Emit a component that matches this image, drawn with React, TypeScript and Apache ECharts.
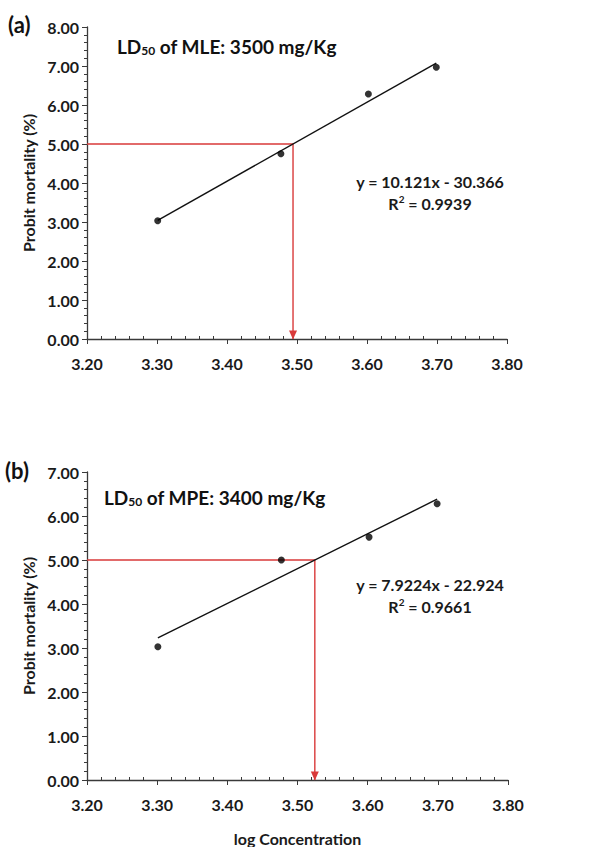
import React, { useEffect, useRef } from "react";
import * as echarts from "echarts";

const logConc = [3.301, 3.477, 3.602, 3.699];
const probitA = [3.03, 4.75, 6.28, 6.97];
const probitB = [3.03, 5.0, 5.52, 6.28];
const fitA = { slope: 10.121, intercept: -30.366, r2: "0.9939", eq: "y = 10.121x - 30.366" };
const fitB = { slope: 7.9224, intercept: -22.924, r2: "0.9661", eq: "y = 7.9224x - 22.924" };
const xTicks = { min: 3.2, max: 3.8, interval: 0.1 };
const yMaxA = 8;
const yMaxB = 7;
const titleA = ["LD", "50", " of MLE: 3500 mg/Kg"];
const titleB = ["LD", "50", " of MPE: 3400 mg/Kg"];

const FONT = "Lato";
const AXIS_COLOR = "#3a3a3a";
const RED = "#d93a3a";

export default function App() {
  const ref = useRef<HTMLDivElement>(null);
  useEffect(() => {
    document.body.style.margin = "0";
    const chart = echarts.init(ref.current!, undefined, { renderer: "svg" });

    const grids = [
      { left: 87, top: 27, width: 420, height: 312 },
      { left: 87, top: 472, width: 421, height: 311 },
    ];

    const xAxisBase = (gi: number, withName: boolean) => ({
      type: "value",
      gridIndex: gi,
      min: xTicks.min,
      max: xTicks.max,
      interval: xTicks.interval,
      splitLine: { show: false },
      axisLine: { show: true, lineStyle: { color: AXIS_COLOR, width: 1.3 } },
      axisTick: { show: true, length: 5, lineStyle: { color: AXIS_COLOR } },
      axisLabel: {
        margin: 16,
        fontFamily: FONT,
        fontWeight: "bold",
        fontSize: 16,
        color: "#1a1a1a",
        formatter: (v: number) => v.toFixed(2),
      },
      name: withName ? "log Concentration" : "",
      nameLocation: "middle",
      nameGap: 50,
      nameTextStyle: { fontFamily: FONT, fontWeight: "bold", fontSize: 16, color: "#1a1a1a" },
    });
    const xMinor = (gi: number) => ({
      type: "value",
      gridIndex: gi,
      min: xTicks.min,
      max: xTicks.max,
      interval: xTicks.interval,
      position: "bottom",
      splitLine: { show: false },
      axisLine: { show: false },
      axisTick: { show: false, inside: true },
      axisLabel: { show: false },
      minorTick: { show: true, splitNumber: 5, length: 3, lineStyle: { color: AXIS_COLOR } },
    });
    const yAxisBase = (gi: number, max: number) => ({
      type: "value",
      gridIndex: gi,
      min: 0,
      max,
      interval: 1,
      splitLine: { show: false },
      axisLine: { show: true, lineStyle: { color: AXIS_COLOR, width: 1.3 } },
      axisTick: { show: true, length: 5, lineStyle: { color: AXIS_COLOR } },
      minorTick: { show: true, splitNumber: 5, length: 3, lineStyle: { color: AXIS_COLOR } },
      axisLabel: {
        margin: 8,
        fontFamily: FONT,
        fontWeight: "bold",
        fontSize: 16,
        color: "#1a1a1a",
        formatter: (v: number) => v.toFixed(2),
      },
      name: "Probit mortality (%)",
      nameLocation: "middle",
      nameGap: 50,
      nameTextStyle: { fontFamily: FONT, fontWeight: "bold", fontSize: 16, color: "#1a1a1a" },
    });

    const buildSeries = (gi: number, ys: number[], fit: { slope: number; intercept: number }) => {
      const x0 = logConc[0];
      const x1 = logConc[logConc.length - 1];
      const ld = (5 - fit.intercept) / fit.slope;
      return [
        {
          type: "line",
          xAxisIndex: gi * 2,
          yAxisIndex: gi,
          data: [
            [x0, fit.slope * x0 + fit.intercept],
            [x1, fit.slope * x1 + fit.intercept],
          ],
          symbol: "none",
          lineStyle: { color: "#111", width: 1.4 },
          z: 3,
        },
        {
          type: "line",
          xAxisIndex: gi * 2,
          yAxisIndex: gi,
          data: [
            { value: [xTicks.min, 5], symbol: "none" },
            { value: [ld, 5], symbol: "none" },
            { value: [ld, 0], symbol: "triangle", symbolSize: [8, 9], symbolRotate: 180, symbolOffset: [0, -4] },
          ],
          symbol: "none",
          showSymbol: true,
          itemStyle: { color: RED },
          lineStyle: { color: RED, width: 1.4 },
          z: 2,
        },
        {
          type: "scatter",
          xAxisIndex: gi * 2,
          yAxisIndex: gi,
          data: logConc.map((x, i) => [x, ys[i]]),
          symbol: "circle",
          symbolSize: 7,
          itemStyle: { color: "#000" },
          z: 4,
        },
      ];
    };

    const richTitle = {
      a: { fontFamily: FONT, fontWeight: "bold", fontSize: 19, fill: "#111" },
      s: { fontFamily: FONT, fontWeight: "bold", fontSize: 12, fill: "#111", padding: [9, 0, 0, 0] },
    } as any;
    const richEq = {
      a: { fontFamily: FONT, fontWeight: "bold", fontSize: 16, fill: "#1a1a1a" },
      u: { fontFamily: FONT, fontWeight: "bold", fontSize: 10, fill: "#1a1a1a", padding: [0, 0, 8, 0] },
    } as any;

    const textEl = (x: number, y: number, text: string, rich: any, align = "left") => ({
      type: "text",
      x,
      y,
      style: { text, rich, align, verticalAlign: "middle" },
    });

    chart.setOption({
      animation: false,
      grid: grids,
      xAxis: [xAxisBase(0, false), xMinor(0), xAxisBase(1, true), xMinor(1)],
      yAxis: [yAxisBase(0, yMaxA), yAxisBase(1, yMaxB)],
      series: [...buildSeries(0, probitA, fitA), ...buildSeries(1, probitB, fitB)],
      graphic: [
        {
          type: "text",
          left: 8,
          top: 13,
          style: { text: "(a)", fontFamily: FONT, fontWeight: "bold", fontSize: 22, fill: "#111" },
        },
        {
          type: "text",
          left: 5,
          top: 459,
          style: { text: "(b)", fontFamily: FONT, fontWeight: "bold", fontSize: 22, fill: "#111" },
        },
        textEl(117, 46, `{a|${titleA[0]}}{s|${titleA[1]}}{a|${titleA[2]}}`, richTitle),
        textEl(104, 497, `{a|${titleB[0]}}{s|${titleB[1]}}{a|${titleB[2]}}`, richTitle),
        textEl(430, 181, `{a|${fitA.eq}}`, richEq, "center"),
        textEl(430, 203, `{a|R}{u|2}{a| = ${fitA.r2}}`, richEq, "center"),
        textEl(430, 584, `{a|${fitB.eq}}`, richEq, "center"),
        textEl(430, 606, `{a|R}{u|2}{a| = ${fitB.r2}}`, richEq, "center"),
      ],
    });
    return () => chart.dispose();
  }, []);
  return <div ref={ref} style={{ width: 591, height: 847 }} />;
}
